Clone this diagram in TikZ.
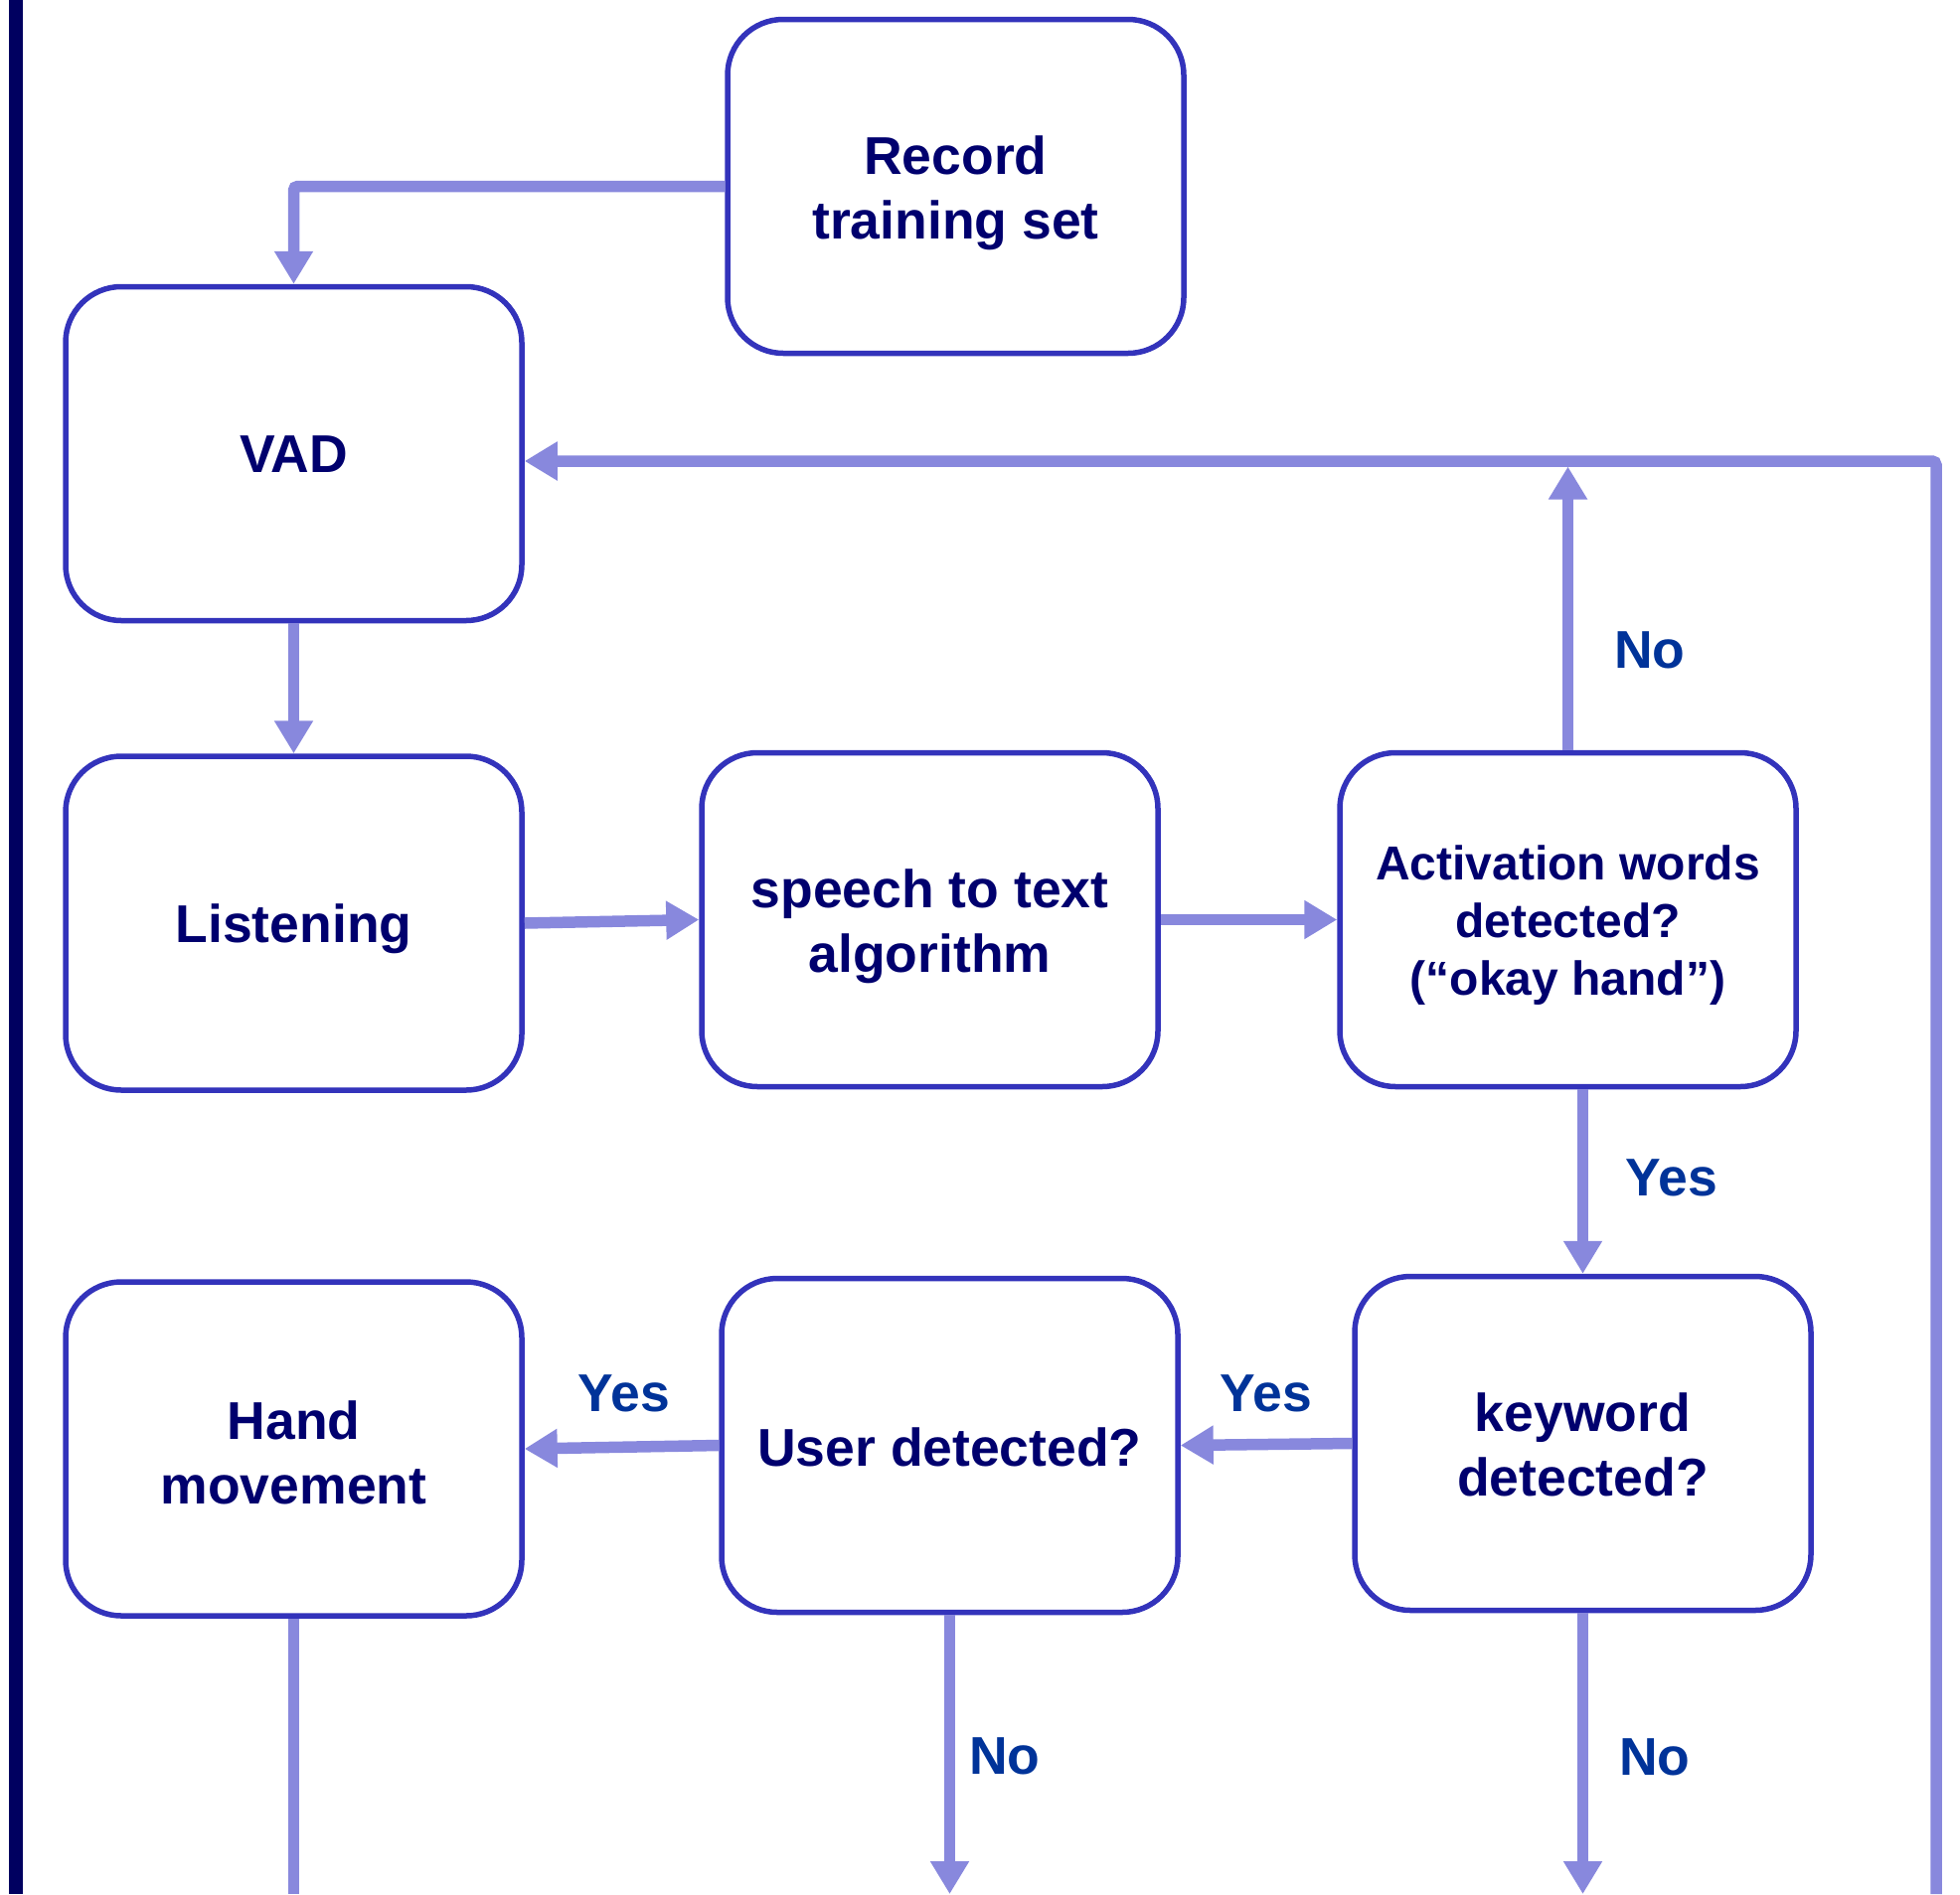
\documentclass[tikz,border=0pt]{standalone}
\usepackage{fontspec}
\setmainfont{Liberation Sans}
\usetikzlibrary{arrows.meta}
\definecolor{boxlinec}{HTML}{3333BB}
\definecolor{connc}{HTML}{8888DD}
\definecolor{txtc}{HTML}{00006E}
\definecolor{lblc}{HTML}{003399}
\definecolor{barc}{HTML}{000060}
% #1 = extra height (twice the downward shift), #2 = lines
\newcommand{\tx}[2]{\raisebox{0pt}[\dimexpr\height+#1pt\relax]{\begin{tabular}{@{}c@{}}#2\end{tabular}}}
\begin{document}
\begin{tikzpicture}[x=1pt,y=-1pt,
  box/.style={draw=boxlinec, line width=5.5pt, rounded corners=56pt, minimum width=459pt, minimum height=336pt, inner sep=0pt, text=txtc, font=\fontsize{53.5}{65}\selectfont\bfseries},
  arrowc/.style={draw=connc, line width=11.5pt, -{Triangle[length=33pt,width=37pt]}},
  plainc/.style={draw=connc, line width=11.5pt},
  lbl/.style={text=lblc, font=\fontsize{53.5}{65}\selectfont\bfseries, inner sep=0pt}]
\useasboundingbox (0,0) rectangle (1972,1906);
\fill[barc] (9,0) rectangle (23,1906);

\node[box] (rec) at (961.5,187.5) {\tx{15}{Record\\training set}};
\node[box] (vad) at (295.5,456.5) {\tx{12}{VAD}};
\node[box] (lis) at (295.5,929) {\tx{12}{Listening}};
\node[box] (stt) at (935.5,925.5) {\tx{15}{speech to text\\algorithm}};
\node[box, font=\fontsize{48}{58}\selectfont\bfseries] (act) at (1577.5,925.5) {\tx{12}{Activation words\\detected?\\(“okay hand”)}};
\node[box] (hand) at (295.5,1458) {\tx{20}{Hand\\movement}};
\node[box] (user) at (955.5,1454.5) {\tx{15}{User detected?}};
\node[box] (kw) at (1592.5,1452.5) {\tx{15}{keyword\\detected?}};

\coordinate (loopbr) at (1948,1906);
\coordinate (looptr) at (1948,464);

\draw[arrowc, rounded corners=4pt] (rec.west) -| (vad.north);
\draw[arrowc] (vad.south) -- (lis.north);
\draw[arrowc] (lis.east) -- (stt.west);
\draw[arrowc] (stt.east) -- (act.west);
\draw[arrowc, shorten >=5.5pt] (act.north) -- (act.north |- looptr);
\draw[arrowc, rounded corners=4pt] (loopbr) -- (looptr) -- (vad.east |- looptr);
\draw[arrowc] (kw.north |- act.south) -- (kw.north);
\draw[arrowc] (kw.west) -- (user.east);
\draw[arrowc] (user.west) -- (hand.east);
\draw[arrowc] (user.south) -- (user.south |- loopbr);
\draw[arrowc] (kw.south) -- (kw.south |- loopbr);
\draw[plainc] (hand.south) -- (hand.south |- loopbr);

\node[lbl] (no1) at (1660,654) {No};
\node[lbl] (yes1) at (1682,1185) {Yes};
\node[lbl] (yes2) at (1274,1402) {Yes};
\node[lbl] (yes3) at (628,1402) {Yes};
\node[lbl] (no2) at (1011,1767) {No};
\node[lbl] (no3) at (1665,1768) {No};
\end{tikzpicture}
\end{document}
